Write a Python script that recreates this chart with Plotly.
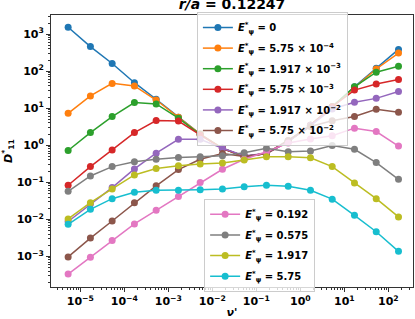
import plotly.graph_objects as go

nu = [5.3e-6, 1.7e-5, 5.3e-5, 1.7e-4, 5.3e-4, 1.7e-3, 5.3e-3, 1.7e-2,
      5.3e-2, 1.7e-1, 5.3e-1, 1.7e0, 5.3e0, 1.7e1, 5.3e1, 1.7e2]

labels = ["0", "5.75 × 10<sup>−4</sup>", "1.917 × 10<sup>−3</sup>", "5.75 × 10<sup>−3</sup>",
          "1.917 × 10<sup>−2</sup>", "5.75 × 10<sup>−2</sup>", "0.192", "0.575", "1.917", "5.75"]

d_e0 = [1550, 465, 162, 49, 17.5, 5.7, 2.0, 0.83, 0.5, 0.6, 1.3, 3.5, 11, 38, 120, 390]
d_e1 = [7.3, 21.6, 47, 40, 16.7, 5.7, 2.0, 0.83, 0.5, 0.6, 1.3, 3.5, 11, 37, 115, 310]
d_e2 = [0.72, 2.2, 5.95, 14.2, 13.1, 5.4, 1.95, 0.82, 0.5, 0.6, 1.3, 3.5, 11, 38, 94, 136]
d_e3 = [0.083, 0.265, 0.75, 2.2, 4.65, 4.5, 1.9, 0.82, 0.5, 0.6, 1.25, 3.5, 11, 31, 45, 60]
d_e4 = [0.0087, 0.026, 0.072, 0.23, 0.61, 1.45, 1.45, 0.83, 0.52, 0.6, 1.25, 3.4, 9.6, 14.5, 18.5, 28.5]
d_e5 = [9.6e-4, 3.1e-3, 9.0e-3, 0.028, 0.080, 0.22, 0.42, 0.6, 0.5, 0.6, 1.35, 3.2, 4.6, 6.0, 9.4, 7.8]
d_e6 = [3.3e-4, 9.4e-4, 2.65e-3, 7.5e-3, 0.0175, 0.041, 0.098, 0.225, 0.42, 0.67, 1.15, 1.48, 1.8, 2.9, 2.35, 0.95]
d_e7 = [0.057, 0.148, 0.265, 0.36, 0.42, 0.47, 0.49, 0.52, 0.63, 0.83, 0.67, 0.70, 0.98, 0.78, 0.34, 0.12]
d_e8 = [0.0102, 0.028, 0.066, 0.158, 0.234, 0.28, 0.31, 0.33, 0.40, 0.49, 0.49, 0.46, 0.265, 0.096, 0.036, 0.0116]
d_e9 = [0.0073, 0.0186, 0.036, 0.054, 0.061, 0.061, 0.063, 0.066, 0.076, 0.083, 0.078, 0.061, 0.035, 0.0128, 0.0046, 0.00136]

series = [d_e0, d_e1, d_e2, d_e3, d_e4, d_e5, d_e6, d_e7, d_e8, d_e9]
colors = ["#1f77b4", "#ff7f0e", "#2ca02c", "#d62728", "#9467bd",
          "#8c564b", "#e377c2", "#7f7f7f", "#bcbd22", "#17becf"]

x_exps = [-5, -4, -3, -2, -1, 0, 1, 2]
y_exps = [-3, -2, -1, 0, 1, 2, 3]

def sup_label(e):
    s = str(e).replace("-", "−")
    return "<b>10<sup>%s</sup></b>" % s

FONT = "DejaVu Sans"

fig = go.Figure()
for i, (vals, lab, col) in enumerate(zip(series, labels, colors)):
    fig.add_trace(go.Scatter(
        x=nu, y=vals, mode="lines+markers",
        name="<b><i>E</i><sup>*</sup><sub>ψ</sub> = %s</b>" % lab,
        line=dict(color=col, width=1.5),
        marker=dict(color=col, size=7),
        legend="legend" if i < 6 else "legend2",
        legendgroup="g%d" % i,
    ))

minor_x = [m * 10 ** k for k in range(-6, 3) for m in range(2, 10)]
minor_y = [m * 10 ** k for k in range(-4, 4) for m in range(2, 10)]

axis_common = dict(
    type="log", showgrid=False, zeroline=False, automargin=False,
    showline=True, mirror=True, linecolor="#333333", linewidth=1,
    ticks="outside", ticklen=4, tickwidth=1, tickcolor="#333333",
    tickfont=dict(family=FONT, size=11, color="black", weight="bold"),
)

fig.update_layout(
    width=415, height=319,
    margin=dict(l=51, r=2, t=15, b=32),
    paper_bgcolor="white", plot_bgcolor="white",
    font=dict(family=FONT, color="black"),
    title=dict(text="<b><i>r/a</i> = 0.12247</b>", x=0.5, xref="paper",
               y=0.987, yref="container", yanchor="middle", pad=dict(t=0, b=0),
               font=dict(family=FONT, size=14, color="black")),
    xaxis=dict(**axis_common, range=[-5.665, 2.56],
               tickvals=[10 ** e for e in x_exps], ticktext=[sup_label(e) for e in x_exps],
               minor=dict(tickvals=minor_x, ticks="outside", ticklen=2, tickcolor="#333333", showgrid=False),
               title=dict(text="<b><i>ν'</i></b>", standoff=2, font=dict(family=FONT, size=11))),
    yaxis=dict(**axis_common, range=[-3.83, 3.52],
               tickvals=[10 ** e for e in y_exps], ticktext=[sup_label(e) for e in y_exps],
               minor=dict(tickvals=minor_y, ticks="outside", ticklen=2, tickcolor="#333333", showgrid=False),
               title=dict(text="<b><i>D</i><sup>*</sup><sub>11</sub></b>", standoff=2, font=dict(family=FONT, size=11))),
    legend=dict(x=0.403, y=1.011, xanchor="left", yanchor="top", itemwidth=30, tracegroupgap=1.6,
                bgcolor="rgba(255,255,255,0.8)", bordercolor="#cccccc", borderwidth=1,
                font=dict(family=FONT, size=10, color="black")),
    legend2=dict(x=0.423, y=0.324, xanchor="left", yanchor="top", itemwidth=30, tracegroupgap=1.6,
                 bgcolor="rgba(255,255,255,0.8)", bordercolor="#cccccc", borderwidth=1,
                 font=dict(family=FONT, size=10, color="black")),
)

fig.write_html("out.html", config={"displayModeBar": False},
               post_script="document.body.style.margin='0px';")
